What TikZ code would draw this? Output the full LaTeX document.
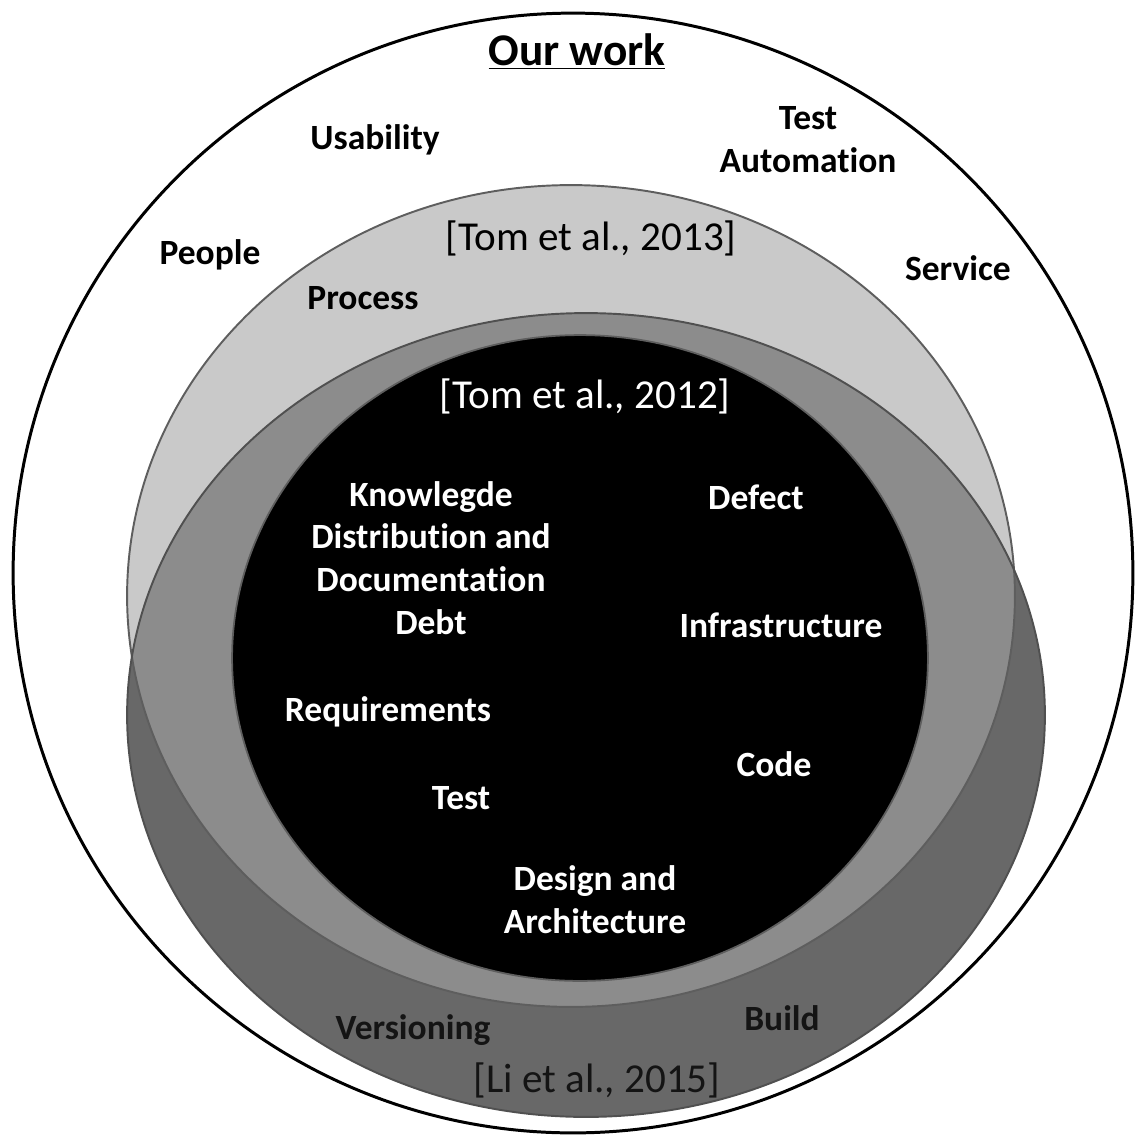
\documentclass[tikz,border=0pt]{standalone}
\usepackage{fontspec}
\setmainfont{Carlito}[Ligatures=NoCommon]
\begin{document}
\begin{tikzpicture}[x=0.02cm,y=-0.02cm,
  lbl/.style={font=\bfseries\fontsize{20.2}{24.4}\selectfont, inner sep=0pt, align=center},
  ref/.style={font=\fontsize{23.4}{27}\selectfont, inner sep=0pt},
  onwhite/.style={text=black},
  onblack/.style={text=white},
  ondark/.style={text=black!92},
]
\definecolor{lightring}{HTML}{C9C9C9}
\definecolor{midring}{HTML}{8C8C8C}
\definecolor{darkring}{HTML}{686868}
\definecolor{ringline}{HTML}{5E5E5E}

\useasboundingbox[fill=white] (0,0) rectangle (1135,1137);

% outer circle: our work
\draw[line width=1.7pt, fill=white] (573,573) circle [radius=11.2cm];

% Li et al. 2015 and Tom et al. 2013 regions
\fill[darkring] (586,715) ellipse [x radius=9.18cm, y radius=8.04cm];
\fill[lightring] (571,596) ellipse [x radius=8.88cm, y radius=8.22cm];
\begin{scope}
  \clip (586,715) ellipse [x radius=9.18cm, y radius=8.04cm];
  \fill[midring] (571,596) ellipse [x radius=8.88cm, y radius=8.22cm];
\end{scope}
\draw[ringline, line width=1.1pt] (571,596) ellipse [x radius=8.88cm, y radius=8.22cm];
\draw[ringline!85!black, line width=1.1pt] (586,715) ellipse [x radius=9.18cm, y radius=8.04cm];

% Tom et al. 2012 core
\draw[fill=black, draw=ringline, line width=1pt] (580,658) ellipse [x radius=6.96cm, y radius=6.46cm];

% titles
\node[font=\bfseries\fontsize{25.8}{30}\selectfont, inner sep=0pt] (ourwork) at (577,52) {\underline{Our work}};
\node[ref, onwhite] (tom13) at (591,238) {[Tom et al., 2013]};
\node[ref, onblack] (tom12) at (585,396) {[Tom et al., 2012]};
\node[ref, ondark] (li15) at (597,1080) {[Li et al., 2015]};

% outer ring labels
\node[lbl, onwhite] (usability) at (375,140) {Usability};
\node[lbl, onwhite] (testauto) at (808,140) {Test\\Automation};
\node[lbl, onwhite] (people) at (210,255) {People};
\node[lbl, onwhite] (service) at (958,268) {Service};
\node[lbl, onwhite] (process) at (363,298) {Process};

% core labels
\node[lbl, onblack] (knowledge) at (431,558) {Knowlegde\\Distribution and\\Documentation\\Debt};
\node[lbl, onblack] (defect) at (756,497) {Defect};
\node[lbl, onblack] (infra) at (781,625) {Infrastructure};
\node[lbl, onblack] (reqs) at (388,712) {Requirements};
\node[lbl, onblack] (code) at (774,764) {Code};
\node[lbl, onblack] (test) at (461,798) {Test};
\node[lbl, onblack] (design) at (595,900) {Design and\\Architecture};

% Li et al. ring labels
\node[lbl, ondark] (versioning) at (413,1030) {Versioning};
\node[lbl, ondark] (build) at (782,1018) {Build};
\end{tikzpicture}
\end{document}
